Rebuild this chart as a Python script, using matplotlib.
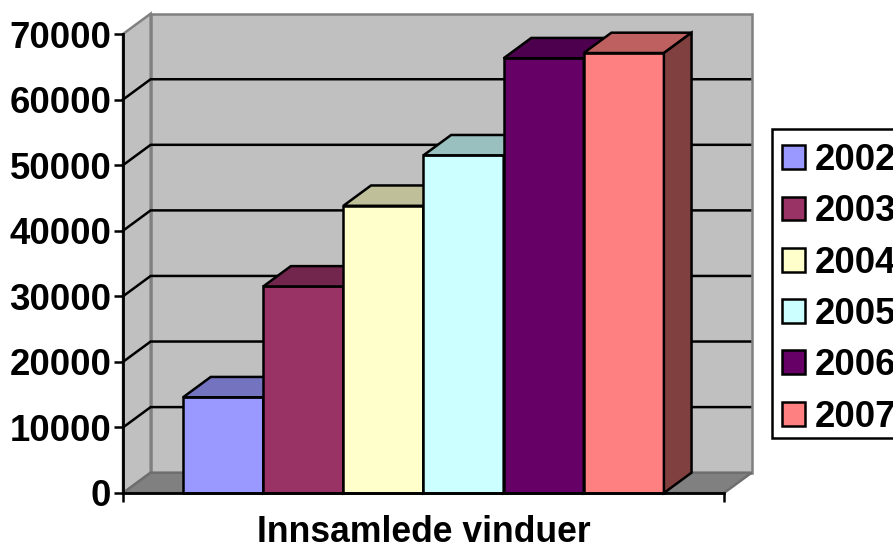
import matplotlib
matplotlib.use("Agg")
import matplotlib.pyplot as plt
from matplotlib.patches import Polygon, Patch, Rectangle
from matplotlib.colors import to_rgb

plt.rcParams['font.family'] = ['Liberation Sans', 'DejaVu Sans']

years = ["2002", "2003", "2004", "2005", "2006", "2007"]
values = [14600, 31500, 43800, 51500, 66300, 67100]
colors = ["#9999FF", "#993366", "#FFFFCC", "#CCFFFF", "#660066", "#FF8080"]
y_ticks = [0, 10000, 20000, 30000, 40000, 50000, 60000, 70000]
xlabel = "Innsamlede vinduer"

W, H = 893, 544
# depth of the fake 3d box, in data units
dx = 0.345
dy = 3100
xmin, xmax = -0.75, 6.75
ymax = 70000
LW = 1.8


def shade(color, k):
    return tuple(c * k for c in to_rgb(color))


def poly(ax, pts, fc, ec="black", lw=LW, z=2):
    ax.add_patch(Polygon(pts, closed=True, facecolor=fc, edgecolor=ec, linewidth=lw,
                         joinstyle="miter", clip_on=False, zorder=z))


fig = plt.figure(figsize=(W / 100, H / 100), dpi=100)
ax = fig.add_axes([123 / W, 1 - 493 / H, 601 / W, 459 / H])
ax.set_xlim(xmin, xmax)
ax.set_ylim(0, ymax)
ax.patch.set_visible(False)

# walls and floor
poly(ax, [(xmin + dx, dy), (xmax + dx, dy), (xmax + dx, ymax + dy), (xmin + dx, ymax + dy)],
     "#C0C0C0", ec="#808080", z=1)
poly(ax, [(xmin, 0), (xmin + dx, dy), (xmin + dx, ymax + dy), (xmin, ymax)],
     "#C0C0C0", ec="#808080", z=1)
poly(ax, [(xmin, 0), (xmax, 0), (xmax + dx, dy), (xmin + dx, dy)],
     "#808080", ec="#6E6E6E", z=1)

# gridlines on the side wall and back wall
for t in y_ticks[1:-1]:
    ax.plot([xmin, xmin + dx, xmax + dx - 0.02], [t, t + dy, t + dy], color="black", lw=LW,
            clip_on=False, zorder=1.5, solid_joinstyle="miter")

# bars
for i, (v, c) in enumerate(zip(values, colors)):
    poly(ax, [(i, 0), (i + 1, 0), (i + 1, v), (i, v)], c, z=2 + i)
    poly(ax, [(i, v), (i + 1, v), (i + 1 + dx, v + dy), (i + dx, v + dy)], shade(c, 0.75), z=2 + i)
    poly(ax, [(i + 1, 0), (i + 1 + dx, dy), (i + 1 + dx, v + dy), (i + 1, v)], shade(c, 0.5), z=2 + i)

for s in ["top", "right"]:
    ax.spines[s].set_visible(False)
for s in ["left", "bottom"]:
    ax.spines[s].set_linewidth(2.0)
    ax.spines[s].set_zorder(20)

ax.set_yticks(y_ticks)
ax.set_yticklabels([str(t) for t in y_ticks], fontsize=26.4, fontweight="bold")
ax.set_xticks([xmin, xmax])
ax.set_xticklabels(["", ""])
ax.tick_params(axis="both", width=LW, length=6.5, pad=2)
ax.set_xlabel(xlabel, fontsize=25.6, fontweight="bold", labelpad=7)

# legend box drawn on its own, the text sits a bit low in it
fig.add_artist(Rectangle((772 / W, 1 - 437.5 / H), 140 / W, 308.5 / H, transform=fig.transFigure,
                         facecolor="white", edgecolor="black", linewidth=LW, zorder=3))
handles = [Patch(facecolor=c, edgecolor="black", linewidth=LW) for c in colors]
leg = fig.legend(handles, years, loc="upper left", bbox_to_anchor=(771 / W, 1 - 132 / H),
                 borderaxespad=0, frameon=False,
                 prop={"size": 26.4, "weight": "bold"}, handlelength=0.62, handleheight=0.62,
                 handletextpad=0.28, labelspacing=0.445, borderpad=0.3)
leg.set_zorder(4)

fig.savefig("out.png", dpi=100)
